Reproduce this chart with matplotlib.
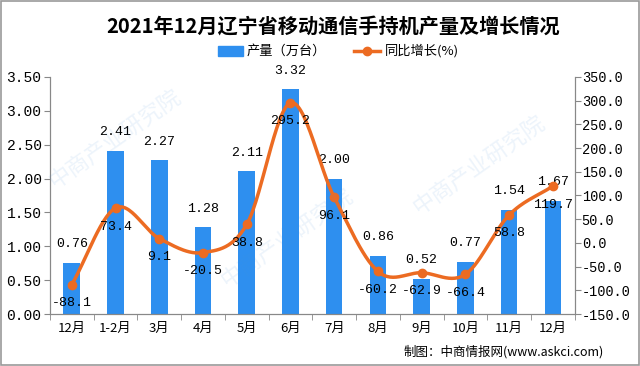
import numpy as np
import matplotlib.pyplot as plt
from matplotlib.patches import Rectangle

plt.rcParams['font.family'] = ['Noto Sans CJK SC', 'DejaVu Sans']

months = ['12月', '1-2月', '3月', '4月', '5月', '6月', '7月', '8月', '9月', '10月', '11月', '12月']
output = [0.76, 2.41, 2.27, 1.28, 2.11, 3.32, 2.00, 0.86, 0.52, 0.77, 1.54, 1.67]
growth = [-88.1, 73.4, 9.1, -20.5, 38.8, 295.2, 96.1, -60.2, -62.9, -66.4, 58.8, 119.7]

bar_color = '#2E8FEF'
line_color = '#EC6B22'
mono = ['Liberation Mono', 'DejaVu Sans Mono']


def smooth(x, y, n=30):
    # catmull-rom through the points, a bit like the excel smoothed line
    x = np.asarray(x, float)
    y = np.asarray(y, float)
    px = np.concatenate([[2 * x[0] - x[1]], x, [2 * x[-1] - x[-2]]])
    py = np.concatenate([[2 * y[0] - y[1]], y, [2 * y[-1] - y[-2]]])
    xs, ys = [], []
    t = np.linspace(0, 1, n)
    for i in range(1, len(px) - 2):
        for p, out in ((px, xs), (py, ys)):
            p0, p1, p2, p3 = p[i - 1], p[i], p[i + 1], p[i + 2]
            out.extend(0.5 * ((2 * p1) + (-p0 + p2) * t
                              + (2 * p0 - 5 * p1 + 4 * p2 - p3) * t ** 2
                              + (-p0 + 3 * p1 - 3 * p2 + p3) * t ** 3))
    return np.array(xs), np.array(ys)


fig = plt.figure(figsize=(6.4, 3.66), dpi=100)
ax = fig.add_axes([0.078, 0.142, 0.820, 0.648])
ax2 = ax.twinx()

x = np.arange(len(months))
ax.bar(x, output, width=0.38, color=bar_color, zorder=2)
ax.set_xlim(-0.5, len(months) - 0.5)
ax.set_ylim(0, 3.5)
ax.set_yticks(np.arange(0, 3.51, 0.5))
ax.set_yticklabels(['%.2f' % v for v in np.arange(0, 3.51, 0.5)], family=mono, fontsize=10.5)
ax.set_xticks(x)
ax.set_xticklabels(months, fontsize=9.5)
ax.set_xticks(np.arange(-0.5, len(months), 1), minor=True)
ax.tick_params(axis='x', which='major', length=0, pad=6)
ax.tick_params(axis='x', which='minor', length=4, color='#888888')
ax.tick_params(axis='y', length=4, color='#888888', pad=2)

sx, sy = smooth(x, growth)
ax2.plot(sx, sy, color=line_color, lw=2.5, zorder=3)
ax2.plot(x, growth, 'o', color=line_color, ms=6, zorder=4)
ax2.set_ylim(-150, 350)
ax2.set_yticks(np.arange(-150, 351, 50))
ax2.set_yticklabels(['%.1f' % v for v in np.arange(-150, 351, 50)], family=mono, fontsize=9.8)
ax2.tick_params(axis='y', length=4, color='#888888', pad=1)

for a in (ax, ax2):
    a.spines['top'].set_visible(False)
    for s in ('left', 'right', 'bottom'):
        a.spines[s].set_color('#888888')

for i, v in enumerate(output):
    ax.annotate('%.2f' % v, (i, v), xytext=(0, 9), textcoords='offset points',
                ha='center', va='bottom', family=mono, fontsize=9.5, zorder=5)
for i, v in enumerate(growth):
    ax2.annotate('%.1f' % v, (i, v), xytext=(0, -9), textcoords='offset points',
                 ha='center', va='top', family=mono, fontsize=9.5, zorder=5)

fig.text(0.52, 0.928, '2021年12月辽宁省移动通信手持机产量及增长情况',
         ha='center', va='center', fontsize=14.5, fontweight='bold')

# legend drawn by hand in figure coords
fig.patches.append(Rectangle((0.340, 0.848), 0.040, 0.026, transform=fig.transFigure,
                             color=bar_color))
fig.text(0.386, 0.861, '产量（万台）', ha='left', va='center', fontsize=9.5)
fig.lines.append(plt.Line2D([0.553, 0.593], [0.861, 0.861], transform=fig.transFigure,
                            color=line_color, lw=2.5))
fig.lines.append(plt.Line2D([0.573], [0.861], transform=fig.transFigure, marker='o',
                            color=line_color, ms=6))
fig.text(0.602, 0.861, '同比增长(%)', ha='left', va='center', fontsize=9.5)

fig.text(0.944, 0.040, '制图：中商情报网(www.askci.com)', ha='right', va='center', fontsize=9)

# faint watermarks
for wx, wy in [(0.18, 0.62), (0.45, 0.35), (0.75, 0.55)]:
    fig.text(wx, wy, '中商产业研究院', rotation=35, fontsize=16, color='#4a90d9',
             alpha=0.10, ha='center', va='center', zorder=0)

fig.patches.append(Rectangle((0.002, 0.003), 0.996, 0.994, transform=fig.transFigure,
                             fill=False, edgecolor='#999999', lw=1.2))

fig.savefig('out.png', dpi=100)
